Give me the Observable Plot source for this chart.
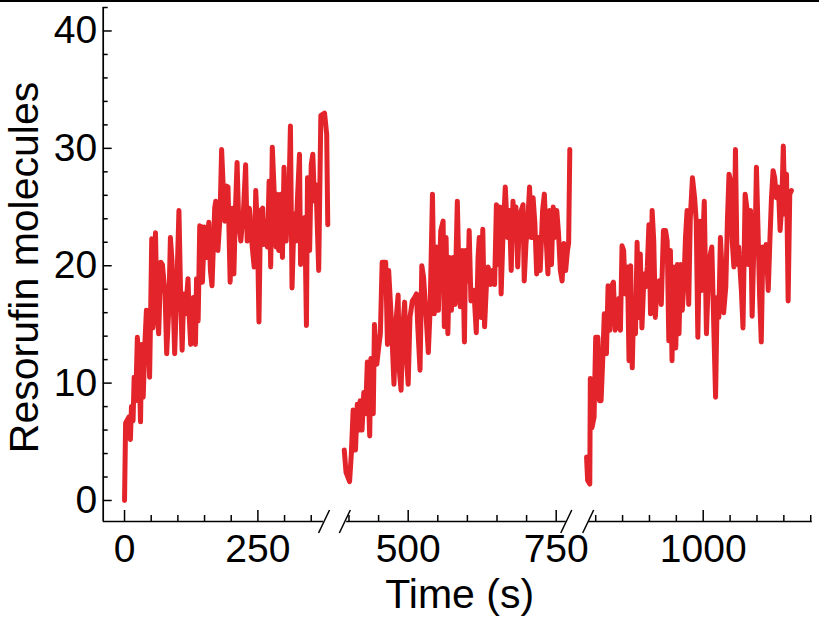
<!DOCTYPE html>
<html>
<head>
<meta charset="utf-8">
<script src="https://cdn.jsdelivr.net/npm/d3@7"></script>
<script src="https://cdn.jsdelivr.net/npm/@observablehq/plot@0.6"></script>
<style>
  html, body { margin: 0; padding: 0; background: #fff; }
  #wrap { position: relative; width: 819px; height: 625px; overflow: hidden; }
  #topline { position: absolute; left: 0; top: 0; width: 819px; height: 2px; background: #000; }
</style>
</head>
<body>
<div id="wrap"><div id="topline"></div></div>
<script>
// ---- data: three recording runs (time in s, resorufin molecules) ----
const run1Time = [0,2,8,11,13,16,18,21,24,27,30,32,35,38,41,44,47,49,51,53,58,61,64,68,71,76,79,83,86,89,94,98,102,105,108,111,114,119,121,124,129,133,135,138,141,145,146,150,154,158,161,164,169,171,175,179,182,185,188,191,194,198,202,205,208,211,214,218,223,227,230,234,236,239,243,246,249,252,255,259,261,264,268,271,274,277,280,284,286,289,293,296,299,303,305,308,311,314,318,321,324,328,330,333,338,341,343,347,350,353,356,359,364,368,372,375,379,381];
const run1Value = [0,6.6,7.1,5.2,8.0,6.8,10.5,8.5,13.9,11.9,6.7,13.3,8.8,13.2,16.2,14.7,10.5,16.2,22.3,14.7,22.8,15.9,14.2,20.3,20.1,17.6,12.5,16.4,22.4,20.4,12.5,18.2,24.7,17.9,12.8,17.6,15.9,18.9,15.9,13.3,17.3,13.3,18.9,15.3,23.4,23.3,18.6,23.3,20.7,23.7,19.6,18.3,24.9,25.5,21.3,24.1,29.9,26.7,23.8,26.8,26.7,18.6,24.9,19.3,24.9,28.8,23.8,22.1,24.7,28.6,22.1,24.9,23.8,21.8,19.9,26.4,23.3,15.2,24.7,24.9,21.8,23.8,21.6,27.2,19.9,30.1,26.9,21.6,26.1,21.3,26.1,20.7,28.4,22.1,24.1,25.5,31.9,18.1,24.4,22.1,25.5,29.5,20.1,22.1,24.1,14.9,27.5,21.3,28.6,29.5,25.5,26.9,19.6,32.8,32.9,33.0,31.2,23.5];

const run2Time = [392,395,401,404,407,411,414,417,419,422,425,428,431,435,437,441,443,447,450,453,456,462,465,467,471,476,479,483,485,488,491,494,497,500,503,507,511,514,516,520,523,526,530,534,537,541,544,548,551,555,559,561,564,567,570,573,576,579,583,586,588,592,595,597,601,603,606,611,615,618,620,623,626,629,632,635,639,642,646,649,652,655,657,660,664,668,671,674,677,680,682,685,688,691,694,696,699,702,705,708,711,714,717,720,723,727,730,733,736,739,742,745,747,751,754,757,760,763,766,769,771,773];
const run2Value = [4.3,2.4,1.6,4.0,7.7,4.3,8.2,6.0,8.5,6.0,9.2,7.4,11.8,5.5,12.1,7.4,15.0,11.6,13.0,14.2,20.3,20.3,13.3,19.6,15.9,9.9,15.0,17.5,11.1,9.4,14.8,16.9,12.2,9.9,15.6,17.0,17.3,17.6,15.0,11.1,20.0,19.0,15.9,12.6,16.2,26.1,15.9,21.6,16.2,23.0,23.8,14.8,22.4,14.2,20.7,16.2,20.7,16.7,25.5,18.4,16.5,21.3,13.5,21.3,18.7,23.0,17.0,17.9,14.3,20.7,22.4,15.6,23.1,14.8,18.2,19.9,18.4,19.6,18.4,25.2,20.1,25.0,17.6,22.4,26.7,22.4,24.7,19.6,25.5,22.4,25.0,19.9,24.1,24.7,25.2,18.7,21.9,23.8,26.7,22.4,25.8,23.6,19.3,22.4,19.6,24.7,26.1,22.4,19.3,24.7,20.1,25.0,22.4,24.7,22.7,19.6,18.7,21.9,19.6,21.3,21.9,29.9];

const run3Time = [783,785,789,790,793,797,800,804,807,810,813,816,820,823,826,829,833,836,839,843,846,849,852,855,859,862,865,868,871,874,877,880,883,886,890,893,896,899,902,905,908,911,914,918,922,926,930,933,936,939,942,945,949,952,955,958,961,964,967,970,973,976,980,984,987,990,994,997,1000,1002,1006,1009,1012,1016,1020,1023,1026,1029,1032,1035,1038,1042,1045,1048,1051,1054,1057,1060,1063,1066,1071,1074,1078,1081,1084,1088,1091,1094,1097,1099,1102,1105,1108,1111,1114,1117,1121,1124,1127,1130,1133,1136,1140,1143,1146,1149,1152,1155,1158,1161,1164];
const run3Value = [3.7,1.7,1.4,10.4,6.2,7.1,13.9,13.9,8.5,8.5,11.9,15.9,12.5,18.3,14.5,18.2,18.6,14.5,15.0,17.2,14.5,21.7,21.3,17.6,19.9,11.9,20.0,11.3,17.3,14.2,22.0,15.6,21.0,14.7,19.3,18.2,19.9,23.5,15.9,24.7,22.1,15.6,18.4,18.7,16.7,23.0,23.0,22.1,13.6,21.3,11.9,19.9,13.0,20.1,14.2,20.1,16.2,18.4,22.4,24.7,16.7,24.1,27.5,25.8,23.8,13.9,23.8,17.9,23.0,25.5,14.2,18.2,20.7,21.6,14.2,8.8,17.3,15.6,22.4,19.6,16.0,18.2,23.8,27.8,27.2,22.1,19.9,29.9,20.1,21.6,17.9,14.7,26.1,25.0,20.1,24.7,15.7,21.3,23.3,28.4,23.0,17.3,13.5,21.6,19.9,21.8,17.9,22.1,25.8,28.1,27.5,25.8,26.7,23.0,25.0,30.2,24.4,27.8,17.0,26.1,26.4];

// ---- axis config ----
const xMajor = [0, 250, 500, 750, 1000];
const xMinor = [50,100,150,200,300,350,400,450,550,600,650,700,800,850,900,950,1050,1100,1150,1200];
const yMajor = [0, 10, 20, 30, 40];
const yMinor = [2,4,6,8,12,14,16,18,22,24,26,28,32,34,36,38,42];
const axisSpans = [[-40, 373], [396, 767], [787, 1203]];   // broken x axis pieces
const breakTimes = [374, 393, 767, 786];                    // where the "//" marks sit
// broken time axis: piecewise time -> position (applied as the x scale's transform)
const xDomain = [-40, 382, 386, 775, 780, 1210];
const xRange  = [102.7, 327.8, 340.2, 570.5, 584.45, 815.6];
const yMin = -1.79, yMax = 42, xMin = -40;

const W = 819, H = 625, mTop = 7, mBottom = 104, mLeft = 102.7, mRight = 3.4;
const pyu = (H - mTop - mBottom) / (yMax - yMin);  // px per y unit
const sx = d3.scaleLinear().domain(xDomain).range(xRange);
const xOff = (t, px) => sx.invert(sx(t) + px);

const rows = [];
[[run1Time, run1Value], [run2Time, run2Value], [run3Time, run3Value]].forEach(([T, V], k) => {
  T.forEach((t, i) => rows.push({run: k, t, v: V[i]}));
});

const red = "#e3242b";
const font = "'Liberation Sans', Arial, Helvetica, sans-serif";

const chart = Plot.plot({
  width: W, height: H,
  marginTop: mTop, marginBottom: mBottom, marginLeft: 0, marginRight: 0,
  x: {type: "linear", domain: [0, W], range: [0, W], transform: t => sx(t), axis: null},
  y: {domain: [yMin, yMax], axis: null},
  style: {fontFamily: font, color: "#000", background: "transparent", overflow: "visible"},
  marks: [
    // data
    Plot.line(rows, {x: "t", y: "v", z: "run", stroke: red, strokeWidth: 5, strokeLinejoin: "round", strokeLinecap: "round"}),
    // y axis
    Plot.ruleX([xMin], {x: d => d, y1: () => yMin, y2: () => yMax, stroke: "#000", strokeWidth: 1.7}),
    Plot.ruleY(yMajor, {y: d => d, x1: () => xMin, x2: () => xOff(xMin, 9), stroke: "#000", strokeWidth: 1.5}),
    Plot.ruleY(yMinor, {y: d => d, x1: () => xMin, x2: () => xOff(xMin, 5), stroke: "#000", strokeWidth: 1.5}),
    Plot.text(yMajor, {x: () => xMin, y: d => d, dx: -6, textAnchor: "end", text: d => String(d), fontSize: 39}),
    // broken x axis
    Plot.ruleY(axisSpans, {y: () => yMin, x1: d => d[0], x2: d => d[1], stroke: "#000", strokeWidth: 1.7}),
    Plot.ruleX(xMajor, {x: d => d, y1: () => yMin, y2: () => yMin + 11 / pyu, stroke: "#000", strokeWidth: 1.5}),
    Plot.ruleX(xMinor, {x: d => d, y1: () => yMin, y2: () => yMin + 6 / pyu, stroke: "#000", strokeWidth: 1.5}),
    Plot.link(breakTimes, {
      x1: d => xOff(d, -5.5), x2: d => xOff(d, 5.5),
      y1: () => yMin - 11.5 / pyu, y2: () => yMin + 11.5 / pyu,
      stroke: "#000", strokeWidth: 1.5
    }),
    Plot.text(xMajor, {x: d => d, y: () => yMin, dy: 28, text: d => String(d), fontSize: 39}),
    // axis titles
    Plot.text(["Time (s)"], {x: () => sx.invert((mLeft + W - mRight) / 2), y: () => yMin, dy: 73, text: d => d, fontSize: 41}),
    Plot.text(["Resorufin molecules"], {x: () => xMin, y: () => (yMin + yMax) / 2, dx: -78, dy: 3, rotate: -90, textAnchor: "middle", text: d => d, fontSize: 41})
  ]
});
chart.style.position = "absolute";
chart.style.left = "0px";
chart.style.top = "0px";
document.getElementById("wrap").prepend(chart);
</script>
</body>
</html>
